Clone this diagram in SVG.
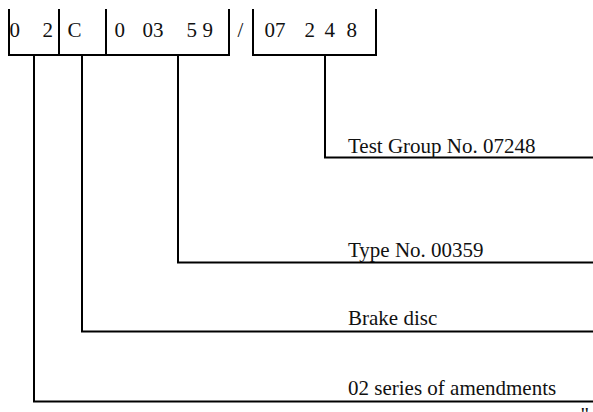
<svg xmlns="http://www.w3.org/2000/svg" width="593" height="412" viewBox="0 0 593 412">
<style>
.ln{fill:none;stroke:#000;stroke-width:2;stroke-linecap:square}
.t{font-family:"Liberation Serif","Times New Roman",serif;font-size:21px;fill:#111}
</style>
<rect width="593" height="412" fill="#fff"/>
<g id="code-box-left">
<path class="ln" d="M9,10 V55 H229 V10 M59,10 V55 M106,10 V55"/>
<text class="t" y="37"><tspan x="9.5">0</tspan><tspan x="42.5">2</tspan><tspan x="67.5">C</tspan><tspan x="114.5">0</tspan><tspan x="142.5">03</tspan><tspan x="186.5">5</tspan><tspan x="202.5">9</tspan></text>
</g>
<g id="slash"><text class="t" x="237.5" y="37">/</text></g>
<g id="code-box-right">
<path class="ln" d="M253,10 V55 H376 V10"/>
<text class="t" y="37"><tspan x="264.5">07</tspan><tspan x="304.5">2</tspan><tspan x="324.5">4</tspan><tspan x="346.5">8</tspan></text>
</g>
<g id="connectors">
<path class="ln" d="M325,55 V157.5 H593"/>
<path class="ln" d="M178,55 V262.5 H593"/>
<path class="ln" d="M82,55 V331.5 H593"/>
<path class="ln" d="M34,55 V401.5 H593"/>
</g>
<g id="label-test-group"><text class="t" x="348" y="153.3">Test Group No. 07248</text></g>
<g id="label-type"><text class="t" x="348" y="256.7">Type No. 00359</text></g>
<g id="label-brake"><text class="t" x="348" y="325">Brake disc</text></g>
<g id="label-series"><text class="t" x="348" y="395">02 series of amendments</text></g>
<g id="quote"><text class="t" x="580.4" y="422">"</text></g>
</svg>
